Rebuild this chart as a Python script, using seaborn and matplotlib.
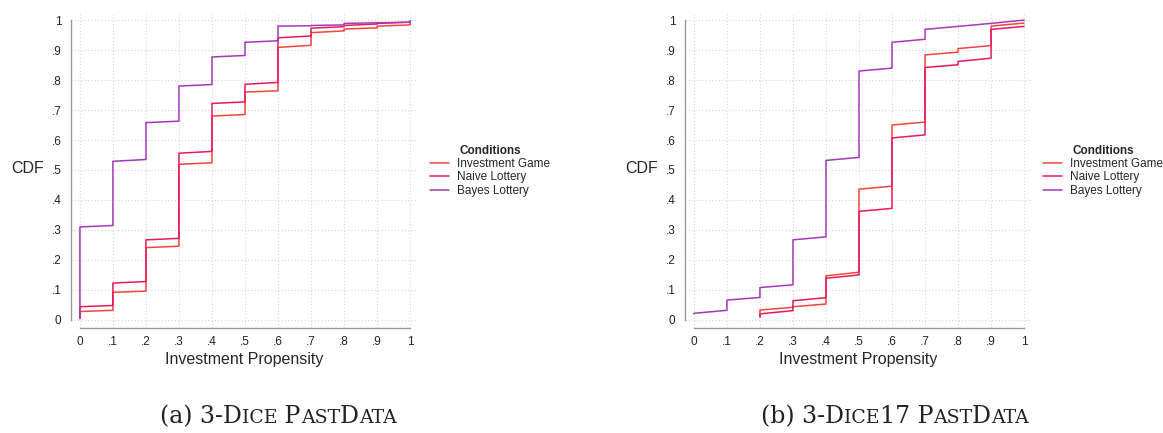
import numpy as np
import pandas as pd
import matplotlib.pyplot as plt
import seaborn as sns

# Conditions and colours
conditions = ['Investment Game', 'Naive Lottery', 'Bayes Lottery']
colors = {'Investment Game': '#F2463E', 'Naive Lottery': '#E8195F', 'Bayes Lottery': '#A33BB6'}

# propensity grid
x_all = [0, .1, .2, .3, .4, .5, .6, .7, .8, .9, 1]
x_from_02 = [.2, .3, .4, .5, .6, .7, .8, .9, 1]

# (a) 3-Dice PastData : cdf just before / just after each propensity value
a_invest_lo = [0.005, 0.032, 0.096, 0.246, 0.524, 0.685, 0.764, 0.916, 0.964, 0.974, 0.984]
a_invest_hi = [0.028, 0.092, 0.241, 0.519, 0.680, 0.760, 0.909, 0.958, 0.970, 0.980, 0.990]
a_naive_lo = [0.005, 0.048, 0.128, 0.272, 0.562, 0.727, 0.792, 0.947, 0.978, 0.987, 0.993]
a_naive_hi = [0.044, 0.123, 0.267, 0.556, 0.722, 0.786, 0.941, 0.973, 0.982, 0.989, 0.997]
a_bayes_lo = [0.005, 0.315, 0.535, 0.663, 0.785, 0.882, 0.931, 0.981, 0.984, 0.991, 0.993]
a_bayes_hi = [0.310, 0.529, 0.658, 0.780, 0.877, 0.926, 0.980, 0.982, 0.989, 0.991, 0.997]

# (b) 3-Dice17 PastData
b_invest_lo = [0.010, 0.042, 0.053, 0.159, 0.446, 0.660, 0.893, 0.915, 0.990]
b_invest_hi = [0.033, 0.044, 0.147, 0.436, 0.650, 0.884, 0.905, 0.980, 0.990]
b_naive_lo = [0.010, 0.031, 0.074, 0.150, 0.372, 0.617, 0.851, 0.873, 0.979]
b_naive_hi = [0.020, 0.064, 0.139, 0.362, 0.607, 0.842, 0.862, 0.969, 0.979]
b_bayes_lo = [0.020, 0.032, 0.075, 0.117, 0.277, 0.542, 0.840, 0.936, 0.979, 0.989, 1.000]
b_bayes_hi = [0.022, 0.066, 0.108, 0.267, 0.532, 0.830, 0.926, 0.969, 0.979, 0.989, 1.000]

tick_vals = [0, .1, .2, .3, .4, .5, .6, .7, .8, .9, 1]
tick_labels = ['0', '.1', '.2', '.3', '.4', '.5', '.6', '.7', '.8', '.9', '1']

# captions in small caps: (text, is_small)
cap_a = [('(a) 3-D', False), ('ICE', True), (' P', False), ('AST', True), ('D', False), ('ATA', True)]
cap_b = [('(b) 3-D', False), ('ICE', True), ('17 P', False), ('AST', True), ('D', False), ('ATA', True)]


def step_rows(xs, lo, hi, cond):
    rows = []
    for x, l, h in zip(xs, lo, hi):
        rows.append((x, l, cond))
        rows.append((x, h, cond))
    return rows


def make_df(series):
    rows = []
    for xs, lo, hi, cond in series:
        rows += step_rows(xs, lo, hi, cond)
    return pd.DataFrame(rows, columns=['x', 'cdf', 'Condition'])


df_a = make_df([(x_all, a_invest_lo, a_invest_hi, 'Investment Game'),
                (x_all, a_naive_lo, a_naive_hi, 'Naive Lottery'),
                (x_all, a_bayes_lo, a_bayes_hi, 'Bayes Lottery')])
df_b = make_df([(x_from_02, b_invest_lo, b_invest_hi, 'Investment Game'),
                (x_from_02, b_naive_lo, b_naive_hi, 'Naive Lottery'),
                (x_all, b_bayes_lo, b_bayes_hi, 'Bayes Lottery')])

sns.set_style('white')
plt.rcParams['font.family'] = ['Liberation Sans', 'DejaVu Sans']

W, H = 1163, 433
fig = plt.figure(figsize=(W / 100, H / 100), dpi=100)
base_y = (H - 423) / H

panels = [(df_a, 71, 0.3697, 160, cap_a),
          (df_b, 685, 0.8968, 761, cap_b)]

cap_groups = []
for df, left_px, leg_x, cap_x, cap_parts in panels:
    ax = fig.add_axes([left_px / W, 105 / H, 347 / W, 316 / H])
    sns.lineplot(data=df, x='x', y='cdf', hue='Condition', hue_order=conditions,
                 palette=colors, sort=False, estimator=None, lw=1.1, ax=ax)
    ax.set_xlim(-0.027, 1.024)
    ax.set_ylim(-0.027, 1.027)
    ax.set_xticks(tick_vals)
    ax.set_xticklabels(tick_labels)
    ax.set_yticks(tick_vals)
    ax.set_yticklabels(tick_labels)
    ax.grid(True, linestyle=(0, (1, 2)), color='#d4d4d4', lw=0.8)
    for s in ['top', 'right']:
        ax.spines[s].set_visible(False)
    for s in ['left', 'bottom']:
        ax.spines[s].set_color('#999999')
        ax.spines[s].set_linewidth(1.0)
        ax.spines[s].set_bounds(0, 1)
    ax.tick_params(axis='both', direction='out', length=4, width=1.0, color='#999999',
                   labelsize=8.5, labelcolor='#222222', pad=2)
    ax.tick_params(axis='y', pad=3)

    ax.set_ylabel('CDF', rotation=0, fontsize=11.5, ha='center', va='center')
    ax.yaxis.set_label_coords(-0.125, 0.506)
    ax.set_xlabel('Investment Propensity', fontsize=11.5, va='top')
    ax.xaxis.set_label_coords(0.5, -0.075)

    sns.move_legend(ax, 'upper left', bbox_to_anchor=(leg_x, 0.666),
                    bbox_transform=fig.transFigure, title='Conditions', frameon=False,
                    fontsize=8.5, title_fontproperties={'weight': 'bold', 'size': 8.5},
                    borderpad=0, borderaxespad=0, handlelength=1.6, handletextpad=0.7,
                    labelspacing=0.12)

    # caption pieces (small caps faked with two sizes)
    grp = []
    for part, small in cap_parts:
        grp.append(fig.text(cap_x / W, base_y, part, fontsize=13.6 if small else 17,
                            family='DejaVu Serif', va='baseline', ha='left', color='#222222'))
    cap_groups.append(grp)

# place caption pieces one after another on the same baseline
fig.canvas.draw()
renderer = fig.canvas.get_renderer()
for grp in cap_groups:
    x_px = grp[0].get_window_extent(renderer).x1
    for t in grp[1:]:
        t.set_position((x_px / W, base_y))
        x_px = t.get_window_extent(renderer).x1

plt.savefig('out.png', dpi=100)
